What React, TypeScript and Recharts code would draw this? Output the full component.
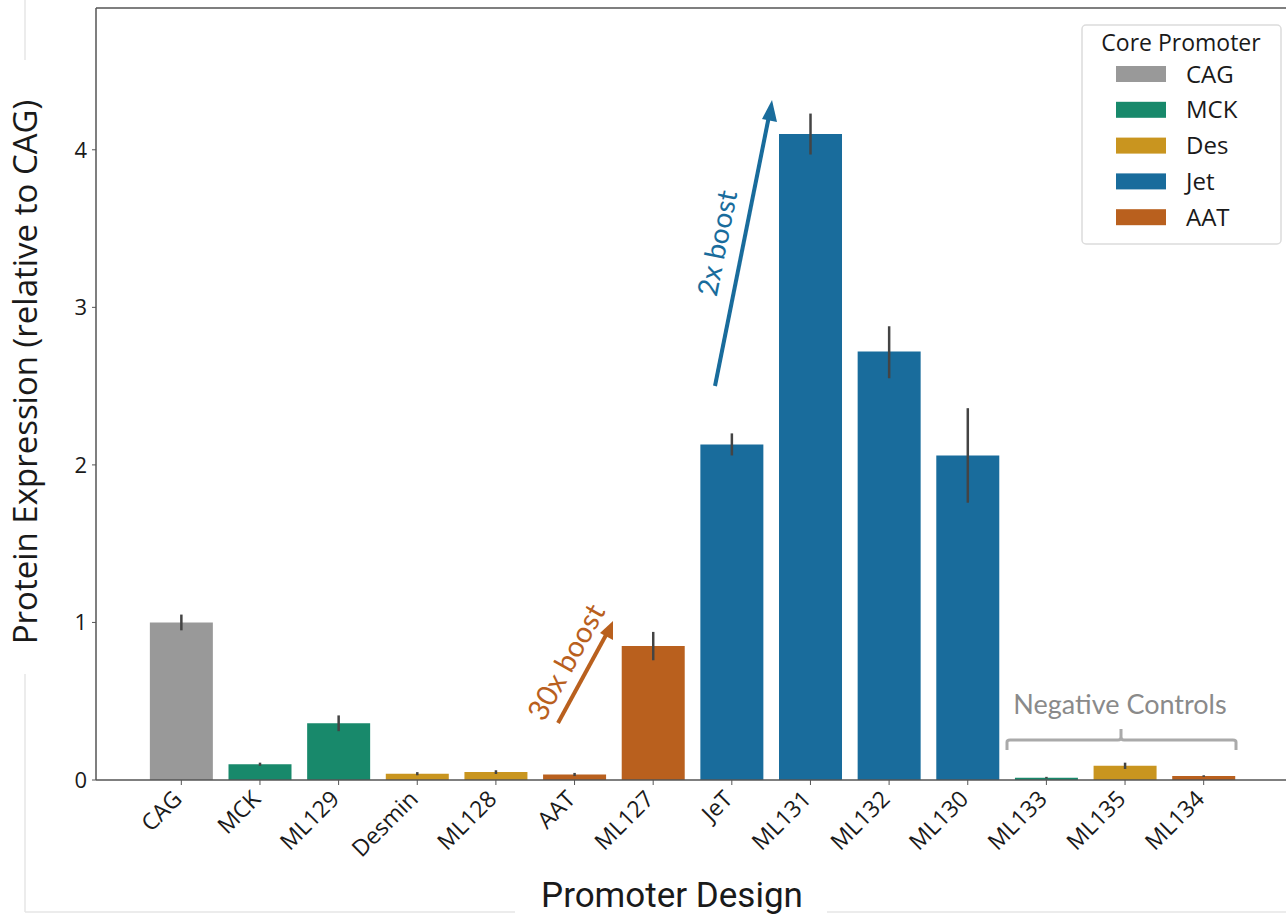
import { Bar, BarChart, Cell, ErrorBar, ReferenceLine, XAxis, YAxis } from 'recharts'

const CATEGORIES = ['CAG', 'MCK', 'ML129', 'Desmin', 'ML128', 'AAT', 'ML127', 'JeT', 'ML131', 'ML132', 'ML130', 'ML133', 'ML135', 'ML134']
const CORE = ['CAG', 'MCK', 'MCK', 'Des', 'Des', 'AAT', 'AAT', 'Jet', 'Jet', 'Jet', 'Jet', 'MCK', 'Des', 'AAT']
const EXPRESSION = [1.0, 0.1, 0.36, 0.04, 0.05, 0.035, 0.85, 2.13, 4.1, 2.72, 2.06, 0.015, 0.09, 0.025]
const ERR_LOW = [0.05, 0.01, 0.05, 0.01, 0.012, 0.01, 0.09, 0.07, 0.13, 0.17, 0.3, 0.005, 0.02, 0.005]
const ERR_HIGH = [0.05, 0.01, 0.05, 0.01, 0.012, 0.01, 0.09, 0.07, 0.13, 0.16, 0.3, 0.005, 0.02, 0.005]
const Y_TICKS = [0, 1, 2, 3, 4]
const CORE_PROMOTERS = ['CAG', 'MCK', 'Des', 'Jet', 'AAT']

const CORE_COLOURS: Record<string, string> = {
  CAG: '#999999',
  MCK: '#18896b',
  Des: '#c9951f',
  Jet: '#196c9c',
  AAT: '#b9601e',
}
const AXIS_COLOUR = '#555555'
const TEXT_COLOUR = '#1a1a1a'
const TICK_FONT = '"Open Sans", sans-serif'

const data = CATEGORIES.map((name, i) => ({
  name,
  core: CORE[i],
  value: EXPRESSION[i],
  err: [ERR_LOW[i], ERR_HIGH[i]],
}))

function CategoryTick(props: any) {
  const { x, y, payload } = props
  return (
    <text
      x={x}
      y={y}
      dx={-8}
      dy={11}
      transform={`rotate(-45 ${x} ${y})`}
      textAnchor="end"
      fontSize={23}
      fontFamily={TICK_FONT}
      fill={TEXT_COLOUR}
    >
      {payload.value}
    </text>
  )
}

function Annotations() {
  return (
    <svg
      width={1286}
      height={916}
      style={{ position: 'absolute', left: 0, top: 0, pointerEvents: 'none' }}
    >
      {/* screenshot frame remnants */}
      <line x1={25} y1={0} x2={25} y2={60} stroke="#e6e6e6" strokeWidth={1.5} />
      <line x1={25} y1={674} x2={25} y2={912} stroke="#e6e6e6" strokeWidth={1.5} />
      <line x1={25} y1={912} x2={515} y2={912} stroke="#e6e6e6" strokeWidth={1.5} />
      <line x1={827} y1={912} x2={1286} y2={912} stroke="#e6e6e6" strokeWidth={1.5} />

      {/* 2x boost arrow */}
      <line x1={715} y1={386} x2={769} y2={116} stroke={CORE_COLOURS.Jet} strokeWidth={4} />
      <polygon points="772,100 762,119 777,122" fill={CORE_COLOURS.Jet} />
      <text
        x={0}
        y={0}
        transform="translate(727 245) rotate(-78.7)"
        textAnchor="middle"
        fontSize={28}
        fontFamily="Lato, sans-serif"
        fill={CORE_COLOURS.Jet}
      >
        2x boost
      </text>

      {/* 30x boost arrow */}
      <line x1={558} y1={723} x2={606} y2={635} stroke={CORE_COLOURS.AAT} strokeWidth={4} />
      <polygon points="613,621 600,633 613,640" fill={CORE_COLOURS.AAT} />
      <text
        x={0}
        y={0}
        transform="translate(575 667) rotate(-61)"
        textAnchor="middle"
        fontSize={29}
        fontFamily="Lato, sans-serif"
        fill={CORE_COLOURS.AAT}
      >
        30x boost
      </text>

      {/* negative controls bracket */}
      <path
        d="M1007,750 L1007,742 Q1007,740 1010,740 L1118,740 Q1121,740 1121,737 L1121,729 M1121,737 Q1121,740 1124,740 L1233,740 Q1236,740 1236,742 L1236,750"
        fill="none"
        stroke="#aaaaaa"
        strokeWidth={3}
      />
      <text x={1120} y={714} textAnchor="middle" fontSize={27} fontFamily="Lato, sans-serif" fill="#8a8a8a">
        Negative Controls
      </text>

      {/* axis titles */}
      <text
        x={0}
        y={0}
        transform="translate(37 372) rotate(-90)"
        textAnchor="middle"
        fontSize={33}
        fontFamily={TICK_FONT}
        fill={TEXT_COLOUR}
      >
        Protein Expression (relative to CAG)
      </text>
      <text x={672} y={907} textAnchor="middle" fontSize={35} fontFamily="Roboto, sans-serif" fill={TEXT_COLOUR}>
        Promoter Design
      </text>

      {/* legend */}
      <rect x={1082} y={25} width={199} height={219} rx={4} fill="#ffffff" stroke="#dcdcdc" strokeWidth={1.5} />
      <text x={1181} y={51} textAnchor="middle" fontSize={23} fontFamily={TICK_FONT} fill={TEXT_COLOUR}>
        Core Promoter
      </text>
      {CORE_PROMOTERS.map((core, i) => (
        <g key={core}>
          <rect x={1116} y={66 + i * 35.8} width={50} height={16} fill={CORE_COLOURS[core]} />
          <text x={1186} y={82.5 + i * 35.8} fontSize={24} fontFamily={TICK_FONT} fill={TEXT_COLOUR}>
            {core}
          </text>
        </g>
      ))}
    </svg>
  )
}

export default function App() {
  return (
    <div style={{ position: 'absolute', left: 0, top: 0, width: 1286, height: 916, background: '#ffffff' }}>
      <BarChart
        width={1286}
        height={916}
        data={data}
        margin={{ top: 8, right: 0, bottom: 0, left: 0 }}
        barCategoryGap="10%"
      >
        <XAxis
          dataKey="name"
          interval={0}
          height={136}
          padding={{ left: 46, right: 43 }}
          axisLine={{ stroke: AXIS_COLOUR, strokeWidth: 1.5 }}
          tickLine={{ stroke: AXIS_COLOUR }}
          tickSize={5}
          tick={<CategoryTick />}
        />
        <YAxis
          width={96}
          domain={[0, 4.9]}
          ticks={Y_TICKS}
          allowDataOverflow
          axisLine={{ stroke: AXIS_COLOUR, strokeWidth: 1.5 }}
          tickLine={{ stroke: AXIS_COLOUR }}
          tickSize={4}
          tickMargin={5}
          tick={{ fontSize: 22, fontFamily: TICK_FONT, fill: TEXT_COLOUR }}
        />
        <ReferenceLine y={4.9} stroke={AXIS_COLOUR} strokeWidth={1.5} />
        <Bar dataKey="value" isAnimationActive={false}>
          {data.map((row) => (
            <Cell key={row.name} fill={CORE_COLOURS[row.core]} />
          ))}
          <ErrorBar dataKey="err" width={0} stroke="#444444" strokeWidth={2.5} direction="y" />
        </Bar>
      </BarChart>
      <Annotations />
    </div>
  )
}
